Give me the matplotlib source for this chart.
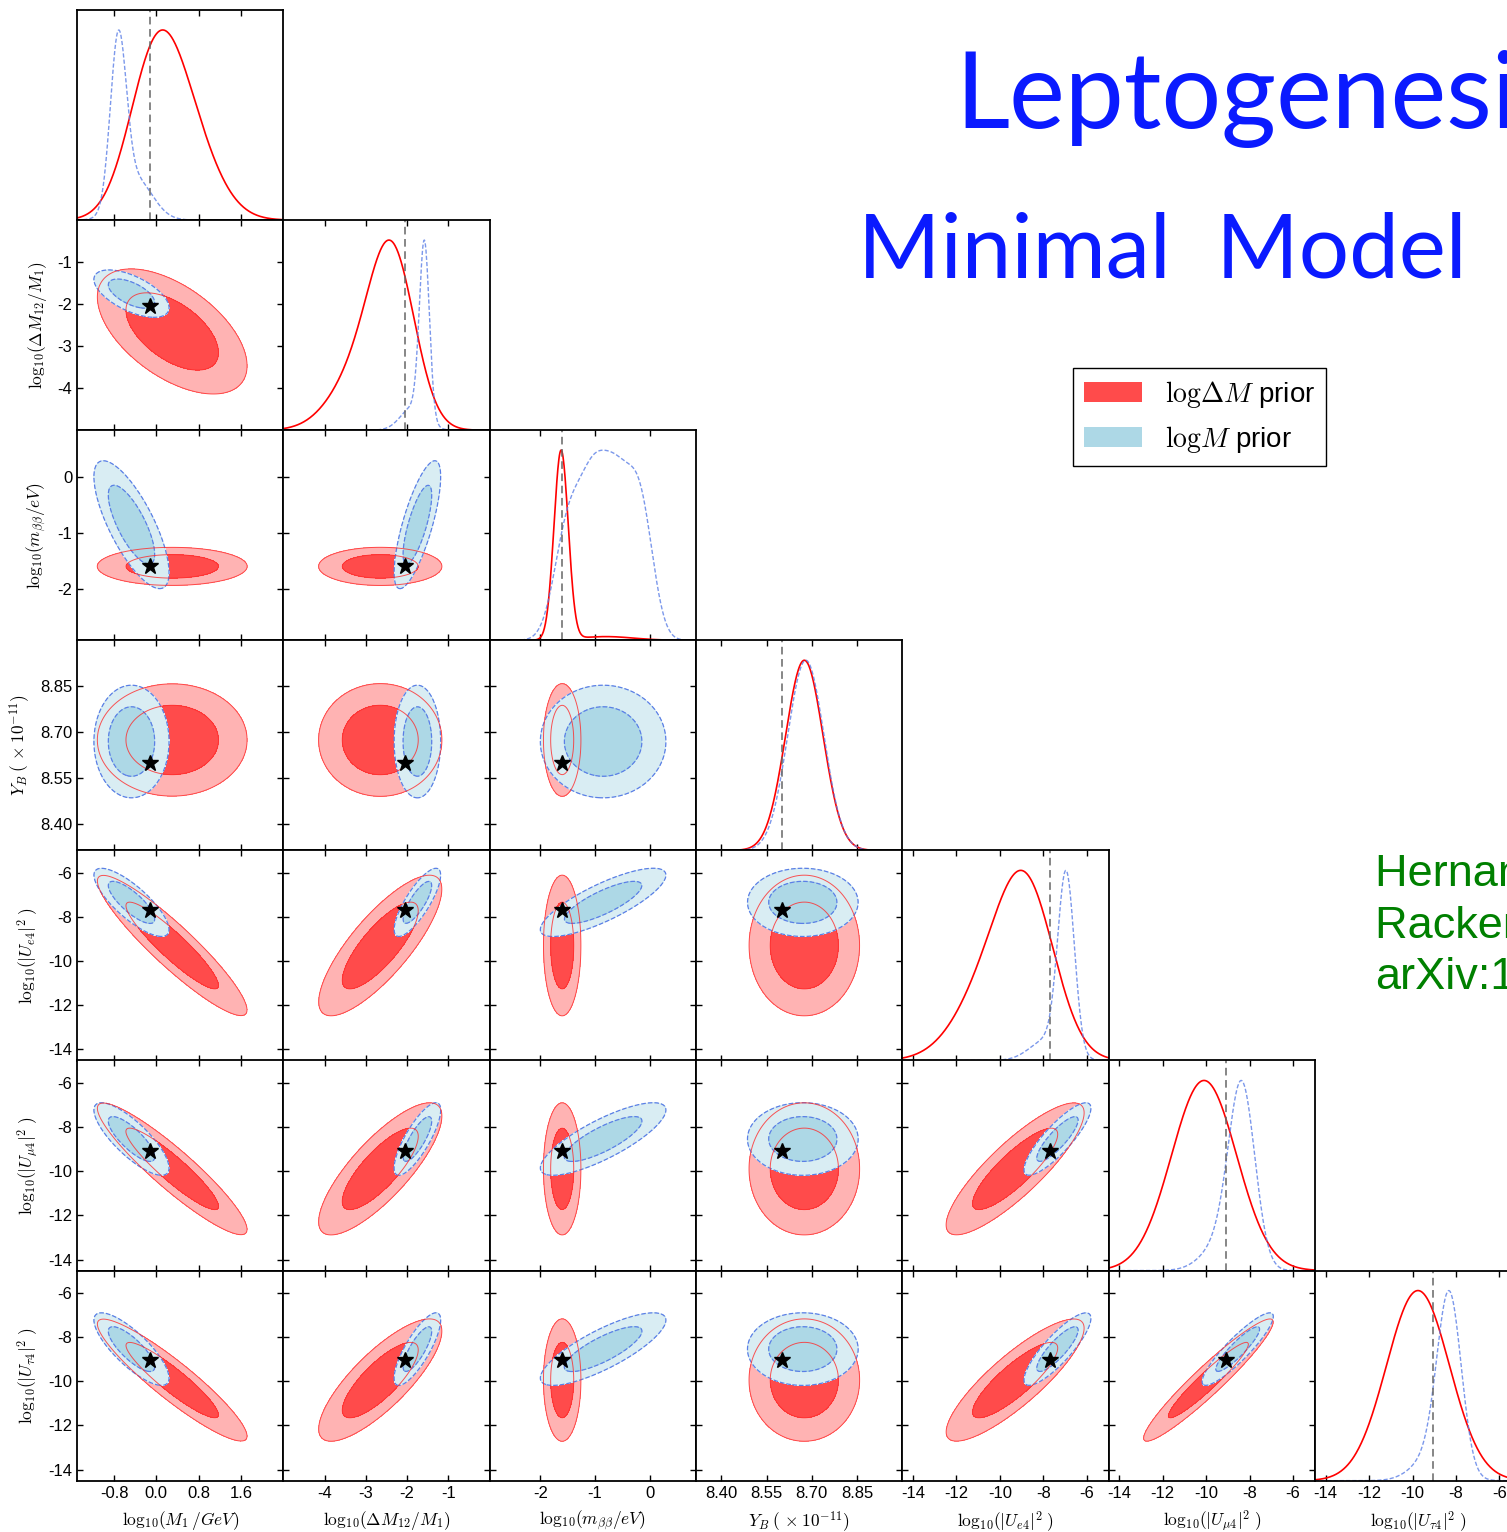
import numpy as np
import matplotlib.pyplot as plt
from matplotlib.patches import Patch

plt.rcParams["font.family"] = ["Liberation Sans", "DejaVu Sans"]
plt.rcParams["mathtext.fontset"] = "cm"

# parameters of the corner plot
names = [r"$\mathrm{log}_{10}(M_1\,/GeV)$", r"$\mathrm{log}_{10}(\Delta M_{12}/M_1)$",
         r"$\mathrm{log}_{10}(m_{\beta\beta}/eV)$", r"$Y_B\;(\,\times10^{-11})$",
         r"$\mathrm{log}_{10}(|U_{e4}|^2\;)$", r"$\mathrm{log}_{10}(|U_{\mu4}|^2\;)$",
         r"$\mathrm{log}_{10}(|U_{\tau4}|^2\;)$"]
lims = [(-1.5, 2.4), (-5.0, 0.0), (-2.93, 0.85), (8.315, 9.0),
        (-14.5, -5.0), (-14.5, -5.0), (-14.5, -5.0)]
ticks = [[-0.8, 0.0, 0.8, 1.6], [-4, -3, -2, -1], [-2, -1, 0],
         [8.40, 8.55, 8.70, 8.85], [-14, -12, -10, -8, -6],
         [-14, -12, -10, -8, -6], [-14, -12, -10, -8, -6]]
tick_fmt = ["%.1f", "%d", "%d", "%.2f", "%d", "%d", "%d"]
truth = [-0.12, -2.05, -1.6, 8.6, -7.7, -9.1, -9.05]

# 1D posteriors, (weight, mean, sd) pieces
red_1d = [
    [(0.55, -0.05, 0.5), (0.45, 0.5, 0.58)],
    [(0.7, -2.35, 0.55), (0.3, -3.15, 0.7)],
    [(0.93, -1.62, 0.13), (0.07, -0.8, 0.5)],
    [(1.0, 8.675, 0.062)],
    [(0.6, -8.7, 1.3), (0.4, -10.3, 1.6)],
    [(1.0, -10.1, 1.5)],
    [(1.0, -9.75, 1.45)],
]
blue_1d = [
    [(0.65, -0.72, 0.15), (0.35, -0.4, 0.32)],
    [(0.75, -1.58, 0.12), (0.25, -1.85, 0.3)],
    [(0.8, -1.5, 0.25), (0.95, -1.05, 0.25), (1.15, -0.6, 0.27), (0.8, -0.15, 0.23)],
    [(1.0, 8.68, 0.06)],
    [(0.8, -6.95, 0.38), (0.2, -7.8, 0.8)],
    [(0.8, -8.35, 0.6), (0.2, -9.2, 0.9)],
    [(0.8, -8.3, 0.55), (0.2, -9.0, 0.9)],
]

# 2D posteriors: centre, width and pairwise correlation
red_mean = [0.3, -2.65, -1.6, 8.675, -9.3, -9.9, -9.95]
red_sd = [0.58, 0.61, 0.14, 0.075, 1.3, 1.22, 1.13]
red_rho = [
    [],
    [-0.55],
    [0.0, 0.0],
    [0.0, 0.0, 0.0],
    [-0.92, 0.8, 0.0, 0.0],
    [-0.92, 0.8, 0.0, 0.0, 0.85],
    [-0.92, 0.8, 0.0, 0.0, 0.85, 0.95],
]
blue_mean = [-0.47, -1.75, -0.85, 8.67, -7.35, -8.55, -8.55]
blue_sd = [0.29, 0.23, 0.47, 0.075, 0.63, 0.67, 0.67]
blue_rho = [
    [],
    [-0.6],
    [-0.75, 0.75],
    [0.0, 0.0, 0.0],
    [-0.8, 0.8, 0.8, 0.0],
    [-0.8, 0.8, 0.8, 0.0, 0.85],
    [-0.8, 0.8, 0.8, 0.0, 0.85, 0.9],
]

RED_IN, RED_OUT, RED_LINE = "#ff4b4b", "#ffb3b3", "#ff2a2a"
BLUE_IN, BLUE_OUT, BLUE_LINE = "#add8e6", "#d9edf3", "#5b7fe6"


def mix1d(x, comps):
    return sum(w * np.exp(-0.5 * ((x - m) / s) ** 2) / s for w, m, s in comps)


def gauss2d(X, Y, mx, my, sx, sy, r):
    zx = (X - mx) / sx
    zy = (Y - my) / sy
    q = (zx ** 2 - 2 * r * zx * zy + zy ** 2) / (1 - r ** 2)
    return np.exp(-0.5 * q)


def levels(z, probs=(0.95, 0.68)):
    flat = np.sort(z.ravel())[::-1]
    cum = np.cumsum(flat)
    cum /= cum[-1]
    return [flat[np.searchsorted(cum, p)] for p in probs]


def density(mean, sd, rho, i, j, X, Y):
    return gauss2d(X, Y, mean[j], mean[i], sd[j], sd[i], rho[i][j])


W, H = 1507, 1532
x0, ytop = 77, 10
pw, ph = 206.3, 210.1
n = len(names)

fig = plt.figure(figsize=(W / 100, H / 100), dpi=100)

for i in range(n):
    for j in range(i + 1):
        rect = [(x0 + j * pw) / W, 1 - (ytop + (i + 1) * ph) / H, pw / W, ph / H]
        ax = fig.add_axes(rect)
        for sp in ax.spines.values():
            sp.set_linewidth(1.3)
        ax.set_xlim(lims[j])
        ax.set_xticks(ticks[j])
        ax.tick_params(direction="in", top=True, right=True, length=4,
                       width=1, labelsize=12)
        if i == j:
            x = np.linspace(lims[j][0], lims[j][1], 400)
            yr = mix1d(x, red_1d[j])
            yb = mix1d(x, blue_1d[j])
            ax.plot(x, yr / yr.max(), color="red", lw=1.2)
            ax.plot(x, yb / yb.max(), color=BLUE_LINE, lw=1.0, ls="--",
                    dashes=(3, 1.5), alpha=0.8)
            ax.axvline(truth[j], color="#666666", lw=1.1, ls="--", dashes=(5, 3))
            ax.set_ylim(0, 1.105)
            ax.set_yticks([])
        else:
            ax.set_ylim(lims[i])
            ax.set_yticks(ticks[i])
            gx = np.linspace(lims[j][0], lims[j][1], 200)
            gy = np.linspace(lims[i][0], lims[i][1], 200)
            X, Y = np.meshgrid(gx, gy)
            zr = density(red_mean, red_sd, red_rho, i, j, X, Y)
            zb = density(blue_mean, blue_sd, blue_rho, i, j, X, Y)
            lr = levels(zr)
            lb = levels(zb)
            ax.contourf(X, Y, zr, levels=lr + [zr.max() * 2],
                        colors=[RED_OUT, RED_IN], zorder=1)
            ax.contourf(X, Y, zb, levels=lb + [zb.max() * 2],
                        colors=[BLUE_OUT, BLUE_IN], zorder=2)
            ax.contour(X, Y, zb, levels=lb, colors=BLUE_LINE, linewidths=0.9,
                       linestyles="--", zorder=3)
            ax.contour(X, Y, zr, levels=lr, colors=RED_LINE, linewidths=0.7,
                       alpha=0.8, zorder=4)
            ax.plot(truth[j], truth[i], marker="*", color="black", ms=12,
                    mec="black", zorder=5)
        if i == n - 1:
            ax.set_xticklabels([tick_fmt[j] % t for t in ticks[j]])
            ax.set_xlabel(names[j], fontsize=12.5, labelpad=6)
        else:
            ax.set_xticklabels([])
        if j == 0 and i > 0:
            ax.set_yticklabels([tick_fmt[i] % t for t in ticks[i]])
            ax.set_ylabel(names[i], fontsize=12.5, labelpad=6)
        elif i != j:
            ax.set_yticklabels([])

handles = [Patch(facecolor=RED_IN, edgecolor="none"),
           Patch(facecolor=BLUE_IN, edgecolor="none")]
fig.legend(handles, [r"$\mathrm{log}\Delta M$ prior", r"$\mathrm{log}M$ prior"],
           loc="upper left", bbox_to_anchor=(1073 / W, 1 - 368 / H),
           fontsize=20, frameon=True, fancybox=False, edgecolor="black",
           framealpha=1, handlelength=2.1, handleheight=0.72,
           handletextpad=0.8, borderaxespad=0)

fig.text(955 / W, 1 - 128 / H, "Leptogenesis", color="#0a1aff", fontsize=76,
         family=["Lato", "DejaVu Sans"], va="baseline", ha="left")
fig.text(858 / W, 1 - 277 / H, "Minimal  Model", color="#0a1aff", fontsize=64,
         family=["Lato", "DejaVu Sans"], va="baseline", ha="left")

for k, line in enumerate(["Hernandez, Kekic, Lopez-Pavon,", "Racker, Salvado",
                          "arXiv:1606.06719"]):
    fig.text(1375 / W, 1 - (886 + 51.5 * k) / H, line, color="green",
             fontsize=32.5, va="baseline", ha="left")

fig.savefig("out.png", dpi=100)
